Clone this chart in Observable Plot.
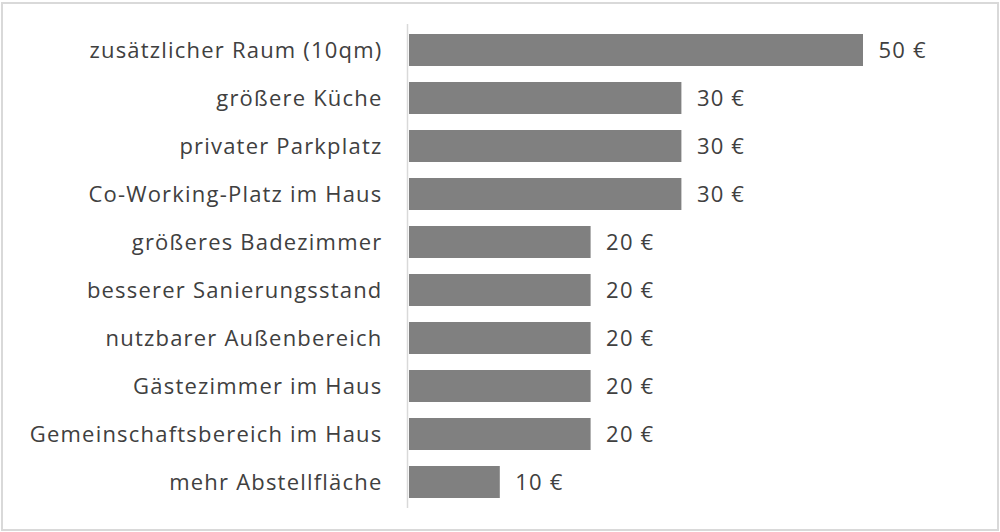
<!DOCTYPE html>
<html><head><meta charset="utf-8">
<script src="https://cdn.jsdelivr.net/npm/d3@7"></script>
<script src="https://cdn.jsdelivr.net/npm/@observablehq/plot@0.6"></script>
<style>
body{margin:0;background:#fff;}
#wrap{position:relative;width:1000px;height:532px;}
#border{position:absolute;left:1px;top:2px;width:994px;height:525px;border:2px solid #d9d9d9;pointer-events:none;}
#wrap svg text{letter-spacing:1.2px;}
</style>
</head><body>
<div id="wrap"><div id="border"></div></div>
<script>
const categories = [
  "zusätzlicher Raum (10qm)",
  "größere Küche",
  "privater Parkplatz",
  "Co-Working-Platz im Haus",
  "größeres Badezimmer",
  "besserer Sanierungsstand",
  "nutzbarer Außenbereich",
  "Gästezimmer im Haus",
  "Gemeinschaftsbereich im Haus",
  "mehr Abstellfläche"
];
const values = [50, 30, 30, 30, 20, 20, 20, 20, 20, 10];
const data = categories.map((c, i) => ({category: c, value: values[i]}));

const chart = Plot.plot({
  width: 1000,
  height: 532,
  marginLeft: 409,
  marginRight: 137,
  marginTop: 24,
  marginBottom: 24,
  style: {fontFamily: "'Open Sans', sans-serif", fontSize: "22px", color: "#404040", background: "white"},
  x: {domain: [0, 50], axis: null},
  y: {domain: categories, paddingInner: 0.33, paddingOuter: 0.165, label: null},
  marks: [
    Plot.barX(data, {x: "value", y: "category", fill: "#808080"}),
    Plot.ruleX([0], {stroke: "#d9d9d9", strokeWidth: 1.5, dx: -2}),
    Plot.axisY({tickSize: 0, tickPadding: 27, fontSize: 22, fill: "#404040", label: null}),
    Plot.text(data, {x: "value", y: "category", text: d => `${d.value} €`, dx: 15, textAnchor: "start", fill: "#404040", fontSize: 22})
  ]
});
document.getElementById("wrap").prepend(chart);
</script>
</body></html>
